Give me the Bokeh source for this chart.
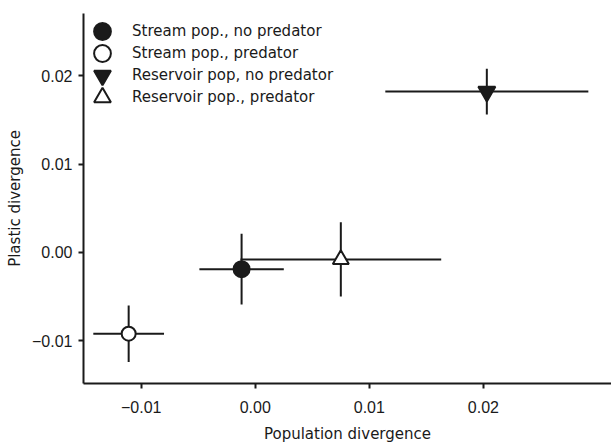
from bokeh.plotting import figure
from bokeh.models import (ColumnDataSource, FixedTicker, CustomJSTickFormatter,
                          Legend, LegendItem, Range1d)
from bokeh.embed import file_html
from bokeh.resources import INLINE

# ---- data ----
groups = ["Stream pop., no predator", "Stream pop., predator",
          "Reservoir pop, no predator", "Reservoir pop., predator"]
pop_div = [-0.0012, -0.0111, 0.0203, 0.0075]
pop_err = [0.0037, 0.0031, 0.0089, 0.0088]
plast_div = [-0.0019, -0.0092, 0.0182, -0.0008]
plast_err = [0.0040, 0.0032, 0.0026, 0.0042]
markers = ["circle", "circle", "inverted_triangle", "triangle"]
fills = ["#1a1a1a", "white", "#1a1a1a", "white"]
sizes = [16, 14, 17, 16]

x_ticks = [-0.01, 0.0, 0.01, 0.02]
x_tick_labels = ["\u22120.01", "0.00", "0.01", "0.02"]
y_ticks = [-0.01, 0.0, 0.01, 0.02]
y_tick_labels = ["\u22120.01", "0.00", "0.01", "0.02"]

INK = "#1a1a1a"
FONT = "Liberation Sans"
WIDE_FONT = "DejaVu Sans"

W, H = 611, 446
BL, BT, BR, BB = 83, 13, 0, 63

p = figure(width=W, height=H, output_backend="svg", toolbar_location=None,
           x_range=Range1d(-0.01506, 0.03123), y_range=Range1d(-0.01484, 0.02704),
           min_border_left=BL, min_border_right=BR, min_border_top=BT, min_border_bottom=BB)
p.outline_line_color = None
p.xgrid.visible = False
p.ygrid.visible = False
p.background_fill_color = "white"

src = ColumnDataSource(dict(
    x=pop_div, y=plast_div,
    x0=[a - b for a, b in zip(pop_div, pop_err)],
    x1=[a + b for a, b in zip(pop_div, pop_err)],
    y0=[a - b for a, b in zip(plast_div, plast_err)],
    y1=[a + b for a, b in zip(plast_div, plast_err)],
))
p.segment(x0="x0", y0="y", x1="x1", y1="y", source=src, line_color=INK, line_width=2)
p.segment(x0="x", y0="y0", x1="x", y1="y1", source=src, line_color=INK, line_width=2)

# one single-item legend per row, so that the keys can be large yet rows tight
frame_h = H - BT - BB
first_row = 18   # px below frame top
row_step = 22
glyph_box = 42
for i, g in enumerate(groups):
    r = p.scatter(x=[pop_div[i]], y=[plast_div[i]], marker=markers[i], size=sizes[i],
                  fill_color=fills[i], line_color=INK, line_width=2)
    centre_from_bottom = frame_h - (first_row + row_step * i)
    leg = Legend(items=[LegendItem(label=g, renderers=[r])],
                 location=(-2, centre_from_bottom - glyph_box // 2),
                 glyph_width=glyph_box, glyph_height=glyph_box, label_height=glyph_box,
                 padding=0, margin=0, label_standoff=9,
                 border_line_color=None, background_fill_alpha=0,
                 label_text_font=WIDE_FONT, label_text_font_size="15px", label_text_color=INK)
    p.add_layout(leg)

for ax in (p.xaxis[0], p.yaxis[0]):
    ax.axis_line_color = INK
    ax.axis_line_width = 2
    ax.major_tick_line_color = INK
    ax.major_tick_line_width = 2
    ax.major_tick_out = 5
    ax.major_tick_in = 0
    ax.minor_tick_line_color = None
    ax.major_label_text_font = FONT
    ax.major_label_text_font_size = "16px"
    ax.major_label_text_color = INK
    ax.axis_label_text_font = WIDE_FONT
    ax.axis_label_text_font_size = "15px"
    ax.axis_label_text_font_style = "normal"
    ax.axis_label_text_color = INK

p.xaxis.ticker = FixedTicker(ticks=x_ticks)
p.yaxis.ticker = FixedTicker(ticks=y_ticks)
fmt_code = """
const i = tvals.findIndex(t => Math.abs(t - tick) < 1e-9);
return i >= 0 ? tlabs[i] : "";
"""
p.xaxis.formatter = CustomJSTickFormatter(args=dict(tvals=x_ticks, tlabs=x_tick_labels), code=fmt_code)
p.yaxis.formatter = CustomJSTickFormatter(args=dict(tvals=y_ticks, tlabs=y_tick_labels), code=fmt_code)
p.xaxis.axis_label = "Population divergence"
p.yaxis.axis_label = "Plastic divergence"
p.xaxis.major_label_standoff = 12
p.yaxis.major_label_standoff = 6
p.xaxis.axis_label_standoff = 9
p.yaxis.axis_label_standoff = 5

open("out.html", "w").write(file_html(p, INLINE))
